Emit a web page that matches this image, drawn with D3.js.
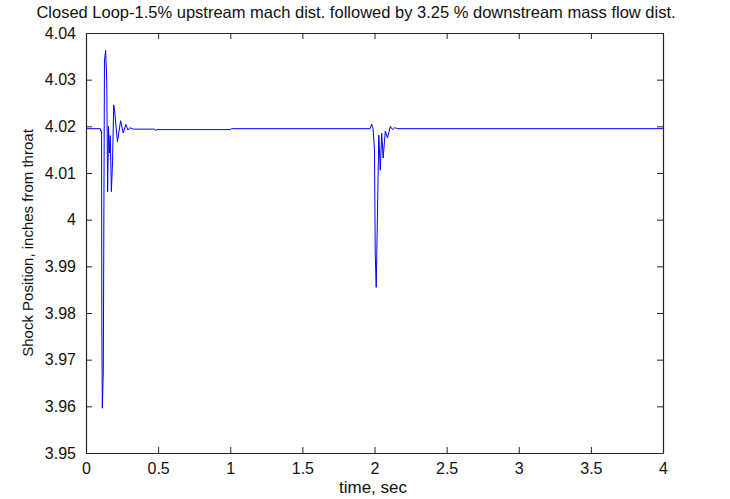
<!DOCTYPE html>
<html>
<head>
<meta charset="utf-8">
<script src="https://cdn.jsdelivr.net/npm/d3@7"></script>
<style>
  body { margin: 0; background: #fff; }
  svg { display: block; font-family: 'Liberation Sans', Arial, sans-serif; }
</style>
</head>
<body>
<svg width="730" height="499"></svg>
<script>
// time in seconds, shock position in inches from throat
const timeSec = [
  0, 0.100, 0.102, 0.108, 0.110, 0.113, 0.120, 0.128, 0.136, 0.144,
  0.150, 0.156, 0.162, 0.168, 0.176, 0.184, 0.192, 0.198, 0.218, 0.240,
  0.258, 0.277, 0.290, 0.305, 0.330, 0.475, 0.480, 0.490, 1.000, 1.010,
  1.970, 1.980, 1.990, 2.000, 2.005, 2.012, 2.020, 2.030, 2.040, 2.050,
  2.060, 2.075, 2.090, 2.110, 2.125, 2.140, 2.160, 4.000
]
const shockPos = [
  4.0195, 4.0195, 4.0190, 4.0190, 3.9768, 3.9596, 3.9676, 4.0340, 4.0363, 4.0297,
  4.0060, 4.0200, 4.0143, 4.0180, 4.0060, 4.0124, 4.0246, 4.0235, 4.0167, 4.0212,
  4.0186, 4.0204, 4.0192, 4.0197, 4.0194, 4.0194, 4.0191, 4.0193, 4.0193, 4.0195,
  4.0195, 4.0205, 4.0195, 4.0150, 3.9929, 3.9855, 4.0004, 4.0181, 4.0106, 4.0185,
  4.0132, 4.0190, 4.0175, 4.0200, 4.0193, 4.0197, 4.0195, 4.0195
]
const xTicks = [0, 0.5, 1, 1.5, 2, 2.5, 3, 3.5, 4]
const xTickLabels = ['0', '0.5', '1', '1.5', '2', '2.5', '3', '3.5', '4']
const yTicks = [3.95, 3.96, 3.97, 3.98, 3.99, 4, 4.01, 4.02, 4.03, 4.04]
const yTickLabels = ['3.95', '3.96', '3.97', '3.98', '3.99', '4', '4.01', '4.02', '4.03', '4.04']

const titleText = 'Closed Loop-1.5% upstream mach dist. followed by 3.25 % downstream mass flow dist.'
const xLabel = 'time, sec'
const yLabel = 'Shock Position, inches from throat'

const margin = {left: 86, right: 67, top: 33, bottom: 46}
const svg = d3.select('svg')
const width = +svg.attr('width') - margin.left - margin.right
const height = +svg.attr('height') - margin.top - margin.bottom
const axisColor = '#262626'
const fontSize = '16px'

const x = d3.scaleLinear().domain([0, 4]).range([0, width])
const y = d3.scaleLinear().domain([3.95, 4.04]).range([height, 0])

const g = svg.append('g')
  .attr('transform', 'translate(' + margin.left + ',' + margin.top + ')')

// data line
const line = d3.line()
  .x((d, i) => x(timeSec[i]))
  .y(d => y(d))
g.append('path')
  .datum(shockPos)
  .attr('fill', 'none')
  .attr('stroke', '#0000ff')
  .attr('stroke-width', 1)
  .attr('d', line)

// axes, ticks point inward like matlab, box on
function styleAxis (sel) {
  sel.select('.domain').attr('stroke', axisColor).attr('stroke-width', 1.2)
  sel.selectAll('.tick line').attr('stroke', axisColor)
  sel.selectAll('.tick text')
    .attr('fill', '#111')
    .style('font-size', fontSize)
}

const tickFmt = (labels, ticks) => (d) => labels[ticks.indexOf(d)]

g.append('g')
  .attr('transform', 'translate(0,' + height + ')')
  .call(d3.axisBottom(x).tickValues(xTicks).tickFormat(tickFmt(xTickLabels, xTicks))
    .tickSizeInner(-6).tickSizeOuter(0).tickPadding(10))
  .call(styleAxis)

g.append('g')
  .call(d3.axisTop(x).tickValues(xTicks).tickFormat('')
    .tickSizeInner(-6).tickSizeOuter(0))
  .call(styleAxis)

g.append('g')
  .call(d3.axisLeft(y).tickValues(yTicks).tickFormat(tickFmt(yTickLabels, yTicks))
    .tickSizeInner(-6).tickSizeOuter(0).tickPadding(10))
  .call(styleAxis)

g.append('g')
  .attr('transform', 'translate(' + width + ',0)')
  .call(d3.axisRight(y).tickValues(yTicks).tickFormat('')
    .tickSizeInner(-6).tickSizeOuter(0))
  .call(styleAxis)

// labels
svg.append('text')
  .attr('x', 356)
  .attr('y', 18)
  .attr('text-anchor', 'middle')
  .style('font-size', '16.5px')
  .attr('fill', '#111')
  .text(titleText)

svg.append('text')
  .attr('x', 373)
  .attr('y', 493)
  .attr('text-anchor', 'middle')
  .style('font-size', '17px')
  .attr('fill', '#111')
  .text(xLabel)

svg.append('text')
  .attr('transform', 'translate(33,' + (margin.top + height / 2) + ') rotate(-90)')
  .attr('text-anchor', 'middle')
  .style('font-size', '15px')
  .attr('fill', '#111')
  .text(yLabel)
</script>
</body>
</html>
